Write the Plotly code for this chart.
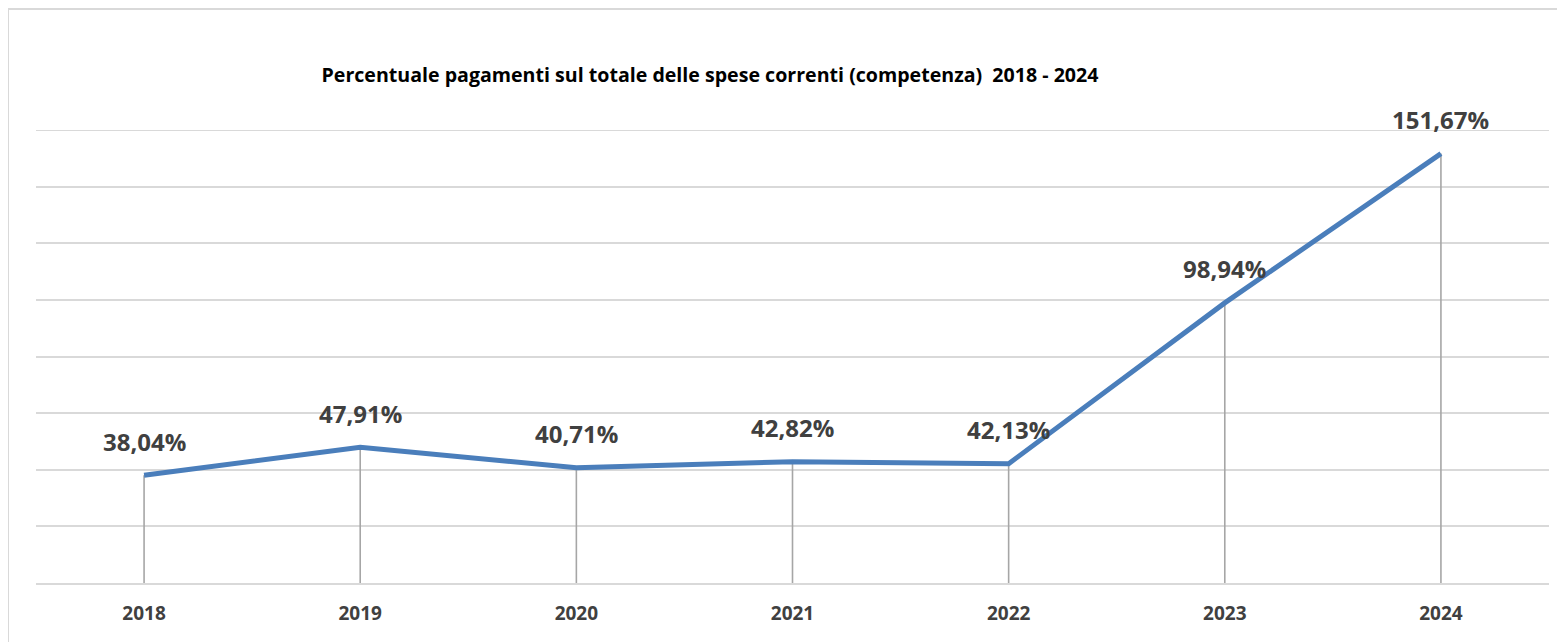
import plotly.graph_objects as go

anni = [2018, 2019, 2020, 2021, 2022, 2023, 2024]
percentuali = [38.04, 47.91, 40.71, 42.82, 42.13, 98.94, 151.67]

etichette = [f"{v:.2f}%".replace(".", ",") for v in percentuali]

FONT = "Open Sans"
# la pagina html ha un margine di 8px sul body: la figura è più piccola di 8px
W, H = 1557, 634
Y_MAX = 160

fig = go.Figure()

# linee verticali (drop lines) dal punto all'asse
fig.add_trace(go.Scatter(
    x=anni, y=percentuali, mode="markers",
    marker=dict(size=0.1, color="rgba(0,0,0,0)"),
    error_y=dict(type="data", symmetric=False,
                 array=[0] * len(percentuali), arrayminus=percentuali,
                 width=0, thickness=1.6, color="#a6a6a6"),
    hoverinfo="skip", showlegend=False,
))

fig.add_trace(go.Scatter(
    x=anni, y=percentuali, mode="lines",
    line=dict(color="#4a7ebb", width=5),
    showlegend=False,
))

for anno, v, t in zip(anni, percentuali, etichette):
    fig.add_annotation(x=anno, y=v, text=f"<b>{t}</b>", showarrow=False,
                       yshift=34, font=dict(family=FONT, size=24, color="#404040"))

# bordo dell'area del grafico
fig.add_shape(type="rect", xref="paper", yref="paper",
              x0=-0.0185, y0=1.267, x1=1.2, y1=-0.3,
              line=dict(color="#d9d9d9", width=2), layer="below")
# griglia superiore (plotly non la disegna sul bordo)
fig.add_shape(type="line", xref="paper", yref="y", x0=0, x1=1, y0=Y_MAX, y1=Y_MAX,
              line=dict(color="#d9d9d9", width=2), layer="below")

fig.update_layout(
    width=W, height=H,
    margin=dict(l=28, r=16, t=122, b=59),
    paper_bgcolor="white", plot_bgcolor="white",
    title=dict(text="<b>Percentuale pagamenti sul totale delle spese correnti (competenza)  2018 - 2024</b>",
               x=702 / W, xanchor="center", xref="container",
               y=1 - 67 / H, yanchor="middle",
               font=dict(family=FONT, size=19.6, color="black")),
    xaxis=dict(type="linear", range=[anni[0] - 0.5, anni[-1] + 0.5],
               tickvals=anni, ticktext=[f"<b>{a}</b>" for a in anni],
               showgrid=False, zeroline=False, showline=True,
               linecolor="#d9d9d9", linewidth=2,
               ticks="", ticklabelstandoff=12,
               tickfont=dict(family=FONT, size=19, color="#404040")),
    yaxis=dict(range=[0, Y_MAX], tick0=0, dtick=20, showticklabels=False,
               gridcolor="#d9d9d9", gridwidth=2, zeroline=False),
)

fig.write_html("out.html")
